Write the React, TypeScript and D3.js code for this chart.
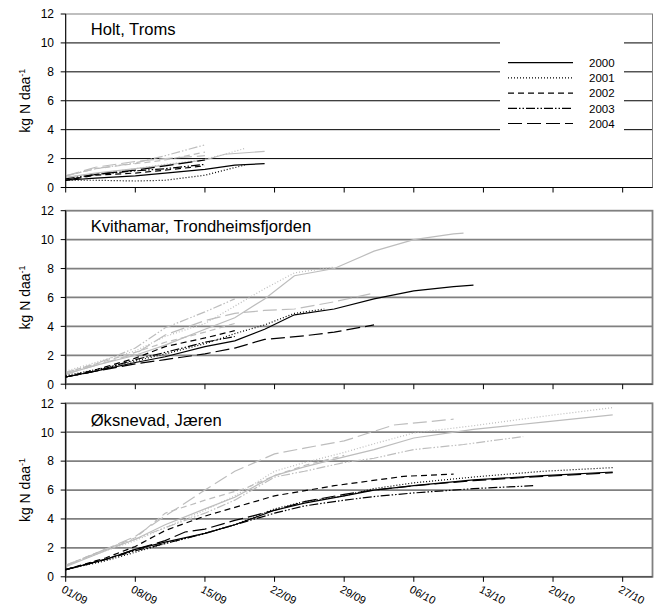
import React, { useRef, useEffect } from "react";
import * as d3 from "d3";

// days after 1 September, value kg N/daa
const years = ["2000", "2001", "2002", "2003", "2004"];
const dashes = ["", "1,2", "6,4", "9,2,1.5,2,1.5,2", "14,5"];
const yTicks = [0, 2, 4, 6, 8, 10, 12];
const panelTitles = ["Holt, Troms", "Kvithamar, Trondheimsfjorden", "Øksnevad, Jæren"];

const holtBlack2000 = [[0, 0.5], [3, 0.65], [7, 0.8], [10, 1.0], [14, 1.25], [17, 1.55], [20, 1.65]];
const holtBlack2001 = [[0, 0.5], [3, 0.5], [7, 0.45], [10, 0.5], [14, 0.85], [16, 1.2], [18, 1.55]];
const holtBlack2002 = [[0, 0.5], [3, 0.85], [7, 1.0], [10, 1.2], [14, 1.5]];
const holtBlack2003 = [[0, 0.6], [3, 0.9], [7, 1.15], [10, 1.3], [14, 1.6]];
const holtBlack2004 = [[0, 0.5], [3, 0.9], [7, 1.2], [10, 1.5], [14, 1.9]];
const holtGray2000 = [[0, 0.7], [3, 1.0], [7, 1.3], [10, 1.55], [14, 1.9], [16, 2.3], [20, 2.5]];
const holtGray2001 = [[0, 0.7], [3, 0.95], [7, 1.3], [10, 1.6], [14, 1.95], [16, 2.3], [18, 2.7]];
const holtGray2002 = [[0, 0.8], [3, 1.3], [7, 1.65], [10, 1.9], [14, 2.45]];
const holtGray2003 = [[0, 0.8], [3, 1.3], [7, 1.7], [10, 2.2], [14, 2.95]];
const holtGray2004 = [[0, 0.8], [3, 1.4], [7, 1.8], [10, 2.0], [14, 2.2]];

const kvBlack2000 = [[0, 0.5], [3, 0.9], [7, 1.5], [10, 1.9], [14, 2.6], [17, 3.0], [20, 3.8], [23, 4.8], [27, 5.2], [31, 5.9], [35, 6.45], [39, 6.75], [41, 6.85]];
const kvBlack2001 = [[0, 0.6], [3, 1.0], [7, 1.6], [10, 2.1], [14, 2.8], [17, 3.5], [20, 4.1], [23, 4.9], [26, 5.2]];
const kvBlack2002 = [[0, 0.5], [3, 1.0], [7, 1.8], [10, 2.6], [14, 3.2], [17, 3.7]];
const kvBlack2003 = [[0, 0.5], [3, 0.9], [7, 1.7], [10, 2.2], [14, 2.9], [17, 3.3]];
const kvBlack2004 = [[0, 0.5], [3, 0.9], [7, 1.4], [10, 1.7], [14, 2.1], [17, 2.5], [20, 3.1], [24, 3.35], [27, 3.6], [31, 4.1]];
const kvGray2000 = [[0, 0.7], [3, 1.3], [7, 2.0], [10, 2.7], [14, 3.8], [17, 4.6], [20, 5.9], [23, 7.5], [27, 8.0], [31, 9.2], [35, 10.0], [39, 10.4], [40, 10.45]];
const kvGray2001 = [[0, 0.9], [3, 1.5], [7, 2.3], [10, 3.3], [14, 4.2], [17, 5.4], [20, 6.6], [23, 7.7], [27, 8.1]];
const kvGray2002 = [[0, 0.8], [3, 1.4], [7, 2.2], [10, 2.9], [14, 3.6], [17, 4.2]];
const kvGray2003 = [[0, 0.8], [3, 1.4], [7, 2.5], [10, 3.9], [14, 5.0], [17, 5.9]];
const kvGray2004 = [[0, 0.7], [3, 1.3], [7, 2.1], [10, 3.4], [14, 4.4], [17, 4.9], [20, 5.1], [23, 5.2], [27, 5.7], [31, 6.3]];

const okBlack2000 = [[0, 0.5], [4, 1.2], [7, 1.9], [10, 2.4], [14, 3.0], [17, 3.6], [21, 4.6], [24, 5.1], [28, 5.6], [31, 6.0], [35, 6.3], [41, 6.7], [48, 7.0], [55, 7.25]];
const okBlack2001 = [[0, 0.5], [4, 1.1], [7, 1.7], [10, 2.3], [14, 3.0], [17, 3.6], [21, 4.7], [24, 5.2], [28, 5.6], [31, 6.1], [35, 6.5], [41, 6.9], [48, 7.3], [55, 7.55]];
const okBlack2002 = [[0, 0.5], [4, 1.3], [7, 2.1], [10, 3.2], [14, 4.2], [18, 5.0], [21, 5.6], [27, 6.3], [34, 6.95], [39, 7.1]];
const okBlack2003 = [[0, 0.5], [4, 1.2], [7, 1.8], [10, 2.3], [14, 3.0], [17, 3.6], [21, 4.4], [24, 4.9], [28, 5.3], [31, 5.55], [35, 5.8], [41, 6.1], [47, 6.3]];
const okBlack2004 = [[0, 0.5], [4, 1.2], [7, 1.9], [10, 2.5], [12, 3.1], [14, 3.3], [17, 3.9], [21, 4.6], [24, 5.2], [28, 5.7], [31, 6.0], [35, 6.3], [41, 6.65], [48, 6.95], [55, 7.2]];
const okGray2000 = [[0, 0.7], [4, 1.8], [7, 2.6], [10, 3.6], [14, 4.7], [17, 5.5], [21, 7.0], [24, 7.6], [28, 8.3], [31, 8.8], [35, 9.6], [41, 10.2], [48, 10.7], [55, 11.2]];
const okGray2001 = [[0, 0.8], [4, 1.8], [7, 2.5], [10, 3.4], [14, 4.6], [17, 5.6], [21, 7.3], [24, 7.9], [28, 8.6], [31, 9.2], [35, 9.95], [41, 10.45], [48, 11.1], [55, 11.7]];
const okGray2002 = [[0, 0.8], [4, 1.9], [7, 2.7], [10, 4.4], [14, 5.3], [18, 6.1], [21, 7.0], [24, 7.7], [28, 8.4]];
const okGray2003 = [[0, 0.8], [4, 1.9], [7, 2.6], [10, 3.4], [14, 4.4], [17, 5.3], [21, 6.9], [24, 7.3], [28, 7.9], [31, 8.2], [35, 8.8], [40, 9.15], [46, 9.7]];
const okGray2004 = [[0, 0.75], [4, 1.9], [7, 2.8], [10, 4.2], [14, 6.0], [17, 7.3], [21, 8.5], [24, 8.9], [28, 9.4], [33, 10.5], [39, 10.9]];

const panelBlack = [
  [holtBlack2000, holtBlack2001, holtBlack2002, holtBlack2003, holtBlack2004],
  [kvBlack2000, kvBlack2001, kvBlack2002, kvBlack2003, kvBlack2004],
  [okBlack2000, okBlack2001, okBlack2002, okBlack2003, okBlack2004],
];
const panelGray = [
  [holtGray2000, holtGray2001, holtGray2002, holtGray2003, holtGray2004],
  [kvGray2000, kvGray2001, kvGray2002, kvGray2003, kvGray2004],
  [okGray2000, okGray2001, okGray2002, okGray2003, okGray2004],
];

const FONT = "'Liberation Sans', Arial, sans-serif";

const App = () => {
  const divRef = useRef<HTMLDivElement>(null);

  useEffect(() => {
    const root = d3.select(divRef.current);
    root.selectAll("*").remove();
    const svg = root
      .append("svg")
      .attr("width", 661)
      .attr("height", 608)
      .attr("style", "position:absolute;left:0;top:0;background:#fff");

    const start = new Date(2004, 8, 1);
    const x = d3
      .scaleTime()
      .domain([start, d3.timeDay.offset(start, 59)])
      .range([65.7, 652.5]);
    const xTicks = d3.timeDay.range(start, new Date(2004, 9, 28), 7);
    const fmt = d3.timeFormat("%d/%m");

    const tops = [14, 210.7, 403.3];
    const titleOffset = [21, 21, 23];
    const h = 173.5;

    tops.forEach((top, pi) => {
      const y = d3.scaleLinear().domain([0, 12]).range([top + h, top]);
      const g = svg.append("g");
      const gridCol = pi === 0 ? "#000" : "#808080";
      const gridW = pi === 0 ? 1 : 1.8;

      g.selectAll("line.grid")
        .data(yTicks.filter((t) => t > 0 && t < 12))
        .join("line")
        .attr("x1", x.range()[0])
        .attr("x2", x.range()[1])
        .attr("y1", (d) => y(d))
        .attr("y2", (d) => y(d))
        .attr("stroke", gridCol)
        .attr("stroke-width", gridW);

      // frame
      g.append("rect")
        .attr("x", x.range()[0])
        .attr("y", y(12))
        .attr("width", x.range()[1] - x.range()[0])
        .attr("height", y(0) - y(12))
        .attr("fill", "none")
        .attr("stroke", "#808080")
        .attr("stroke-width", pi === 0 ? 1 : 1.8);

      if (pi === 0) {
        // legend box hides gridlines
        g.append("rect")
          .attr("x", 500)
          .attr("y", 36)
          .attr("width", 124)
          .attr("height", 102)
          .attr("fill", "#fff");
        years.forEach((yr, i) => {
          const ly = 62.7 + i * 15.2;
          g.append("line")
            .attr("x1", 508)
            .attr("x2", 573)
            .attr("y1", ly)
            .attr("y2", ly)
            .attr("stroke", "#000")
            .attr("stroke-width", 1.2)
            .attr("stroke-dasharray", dashes[i]);
          g.append("text")
            .attr("x", 589)
            .attr("y", ly + 4.2)
            .attr("font-family", FONT)
            .attr("font-size", 11.5)
            .text(yr);
        });
      }

      const line = d3
        .line<number[]>()
        .x((d) => x(d3.timeDay.offset(start, d[0])))
        .y((d) => y(d[1]));

      panelGray[pi].forEach((s, i) => {
        g.append("path")
          .attr("d", line(s))
          .attr("fill", "none")
          .attr("stroke", "#bdbdbd")
          .attr("stroke-width", 1.2)
          .attr("stroke-dasharray", dashes[i]);
      });
      panelBlack[pi].forEach((s, i) => {
        g.append("path")
          .attr("d", line(s))
          .attr("fill", "none")
          .attr("stroke", "#000")
          .attr("stroke-width", 1.2)
          .attr("stroke-dasharray", dashes[i]);
      });

      // axes lines
      g.append("line")
        .attr("x1", x.range()[0])
        .attr("x2", x.range()[0])
        .attr("y1", y(0))
        .attr("y2", y(12))
        .attr("stroke", "#000");
      g.append("line")
        .attr("x1", x.range()[0])
        .attr("x2", x.range()[1])
        .attr("y1", y(0))
        .attr("y2", y(0))
        .attr("stroke", pi === 0 ? "#000" : "#555")
        .attr("stroke-width", pi === 0 ? 1 : 1.6);

      g.selectAll("line.ytick")
        .data(yTicks)
        .join("line")
        .attr("x1", x.range()[0] - 5)
        .attr("x2", x.range()[0])
        .attr("y1", (d) => y(d))
        .attr("y2", (d) => y(d))
        .attr("stroke", "#000");
      g.selectAll("text.ylab")
        .data(yTicks)
        .join("text")
        .attr("x", 54)
        .attr("y", (d) => y(d) + 4.3)
        .attr("text-anchor", "end")
        .attr("font-family", FONT)
        .attr("font-size", 12)
        .text((d) => d);

      g.selectAll("line.xtick")
        .data(xTicks)
        .join("line")
        .attr("x1", (d) => x(d))
        .attr("x2", (d) => x(d))
        .attr("y1", y(0))
        .attr("y2", y(0) + 5)
        .attr("stroke", "#000");

      if (pi === 2) {
        g.selectAll("text.xlab")
          .data(xTicks)
          .join("text")
          .attr("transform", (d) => `translate(${x(d) - 5},${y(0) + 15}) rotate(28)`)
          .attr("font-family", FONT)
          .attr("font-size", 11)
          .text((d) => fmt(d));
      }

      g.append("text")
        .attr("x", 90.7)
        .attr("y", top + titleOffset[pi])
        .attr("font-family", FONT)
        .attr("font-size", 16.6)
        .text(panelTitles[pi]);

      const yl = g
        .append("text")
        .attr("transform", `translate(30,${top + h / 2}) rotate(-90)`)
        .attr("text-anchor", "middle")
        .attr("font-family", FONT)
        .attr("font-size", 14);
      yl.append("tspan").text("kg N daa");
      yl.append("tspan").attr("dy", -5.5).attr("font-size", 9).text("-1");
    });
  }, []);

  return <div ref={divRef}></div>;
};

export default App;
